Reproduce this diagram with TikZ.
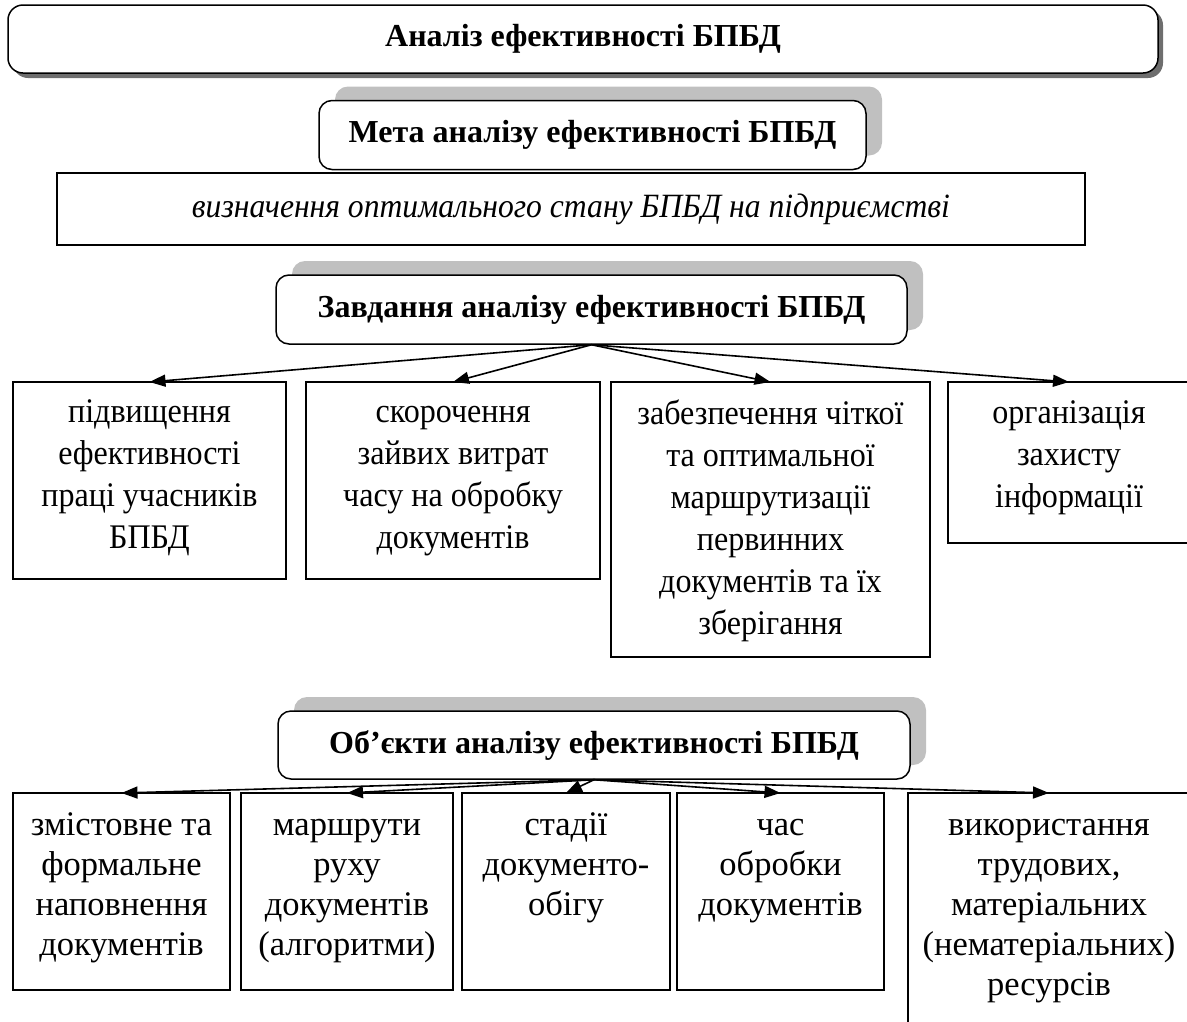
\documentclass[tikz,border=0pt]{standalone}
\usepackage{fontspec}
\setmainfont{Liberation Serif}
\newfontfamily\narrowserif[FakeStretch=0.93]{Liberation Serif}
\usetikzlibrary{arrows.meta,shadows}
\definecolor{shadelight}{RGB}{192,192,192}
\definecolor{shadedark}{RGB}{110,110,110}
% top-aligned, centred cell text: width, height, first-baseline strut, lines
\newcommand{\celltext}[4]{\parbox[c][#2][t]{#1}{\centering\rule{0pt}{#3}#4\par}}
\begin{document}
\begin{tikzpicture}[x=1pt,y=-1pt,
  titlebox/.style={draw, line width=1.5pt, rounded corners=15pt, fill=white,
    inner sep=0pt, minimum width=1150pt, minimum height=68pt,
    font=\fontsize{32}{38}\selectfont\bfseries,
    drop shadow={shadow xshift=5pt, shadow yshift=-5pt, fill=shadedark, opacity=1}},
  headbox/.style={draw, line width=1.5pt, rounded corners=13pt, fill=white,
    inner sep=0pt, minimum height=69pt,
    font=\fontsize{32}{38}\selectfont\bfseries,
    drop shadow={shadow xshift=16pt, shadow yshift=14pt, fill=shadelight, opacity=1}},
  goalbox/.style={draw, line width=1.5pt, inner sep=0pt,
    minimum width=1028pt, minimum height=72pt,
    font=\narrowserif\fontsize{34}{40}\selectfont\itshape},
  cell/.style={draw, line width=1.5pt, inner sep=0pt, outer sep=0pt,
    font=\fontsize{34.5}{40}\selectfont},
  taskcell/.style={cell, font=\narrowserif\fontsize{34.5}{42}\selectfont},
  arr/.style={-{Triangle[length=16pt,width=12pt]}, line width=1.6pt}
]
\useasboundingbox (0,0) rectangle (1187,1021);

% heading blocks
\node[titlebox] (title) at (583,39) {Аналіз ефективності БПБД};
\node[headbox, minimum width=547pt] (goal) at (592.5,135) {Мета аналізу ефективності БПБД};
\node[goalbox] (goaltext) at (571,209) {визначення оптимального стану БПБД на підприємстві};
\node[headbox, minimum width=631pt] (tasks) at (591.5,309.5) {Завдання аналізу ефективності БПБД};

% tasks
\node[taskcell] (t1) at (149.5,480.5) {\celltext{273pt}{197pt}{40pt}{підвищення\\ефективності\\праці учасників\\БПБД}};
\node[taskcell] (t2) at (453,480.5) {\celltext{294pt}{197pt}{40pt}{скорочення\\зайвих витрат\\часу на обробку\\документів}};
\node[taskcell] (t3) at (770.5,519.5) {\celltext{319pt}{275pt}{42pt}{забезпечення чіткої\\та оптимальної\\маршрутизації\\первинних\\документів та їх\\зберігання}};
\node[taskcell] (t4) at (1069,462.5) {\celltext{242pt}{161pt}{41pt}{організація\\захисту\\інформації}};

\foreach \t in {t1,t2,t3,t4} \draw[arr] (tasks.south) -- (\t.north);

% objects
\node[headbox, minimum width=632pt, minimum height=68pt] (objects) at (594,745) {Об’єкти аналізу ефективності БПБД};

\node[cell] (o1) at (121.5,891.5) {\celltext{217pt}{197pt}{42pt}{змістовне та\\формальне\\наповнення\\документів}};
\node[cell] (o2) at (347,891.5) {\celltext{212pt}{197pt}{42pt}{маршрути\\руху\\документів\\(алгоритми)}};
\node[cell] (o3) at (566,891.5) {\celltext{208pt}{197pt}{42pt}{стадії\\документо-\\обігу}};
\node[cell] (o4) at (780.5,891.5) {\celltext{207pt}{197pt}{42pt}{час\\обробки\\документів}};
\node[cell] (o5) at (1049,919) {\celltext{282pt}{252pt}{42pt}{використання\\трудових,\\матеріальних\\(нематеріальних)\\ресурсів}};

\foreach \o in {o1,o2,o3,o4,o5} \draw[arr] (objects.south) -- (\o.north);
\end{tikzpicture}
\end{document}
